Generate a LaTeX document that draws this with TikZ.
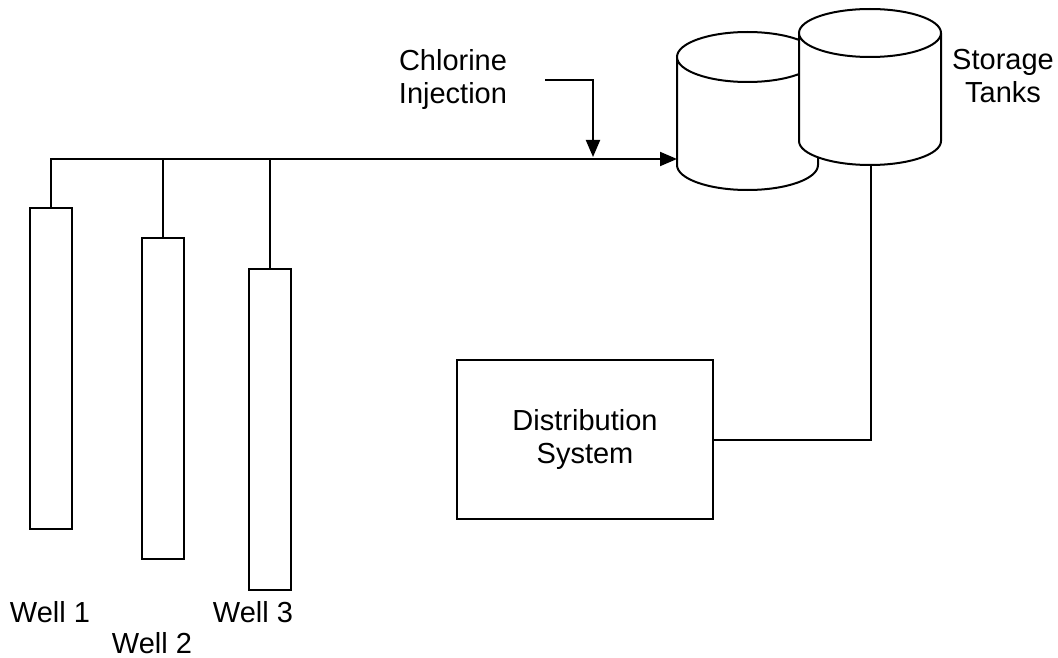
\documentclass[tikz,border=0pt]{standalone}
\usepackage{fontspec}
\setmainfont{Liberation Sans}
\usetikzlibrary{arrows.meta}
\begin{document}
\begin{tikzpicture}
		[x=1pt,y=-1pt,
		pipe/.style={line width=2pt},
		well/.style={draw,line width=2pt,inner sep=0pt,minimum width=42pt,minimum height=321pt},
		unit/.style={draw,line width=2pt,inner sep=0pt,minimum width=256pt,minimum height=159pt},
		textstyle/.style={font=\fontsize{29}{33}\selectfont,align=center,inner sep=0pt},
		tip/.style={-{Triangle[length=17pt,width=14pt]}}]
		\useasboundingbox (0,0) rectangle (1058,658);
		% wells
		\node at (50.5, 368) (well1) [well] {};
		\node at (163, 398) (well2) [well] {};
		\node at (269.5, 429.5) (well3) [well] {};
		\node at (50, 612) (lbl1) [textstyle] {Well 1};
		\node at (152, 643) (lbl2) [textstyle] {Well 2};
		\node at (253, 612) (lbl3) [textstyle] {Well 3};
		% storage tanks
		\draw[line width=2pt,fill=white] (677,57) -- (677,165) arc[start angle=180,end angle=0,x radius=70.5,y radius=25]
			-- (818,57) arc[start angle=0,end angle=-180,x radius=70.5,y radius=25] arc[start angle=180,end angle=0,x radius=70.5,y radius=25];
		\draw[line width=2pt,fill=white] (799,33) -- (799,141) arc[start angle=180,end angle=0,x radius=71,y radius=24]
			-- (941,33) arc[start angle=0,end angle=-180,x radius=71,y radius=24] arc[start angle=180,end angle=0,x radius=71,y radius=24];
		\coordinate (inlet) at (677, 159);
		\coordinate (outlet) at (871, 165);
		\node at (1003, 76) (tanks) [textstyle] {Storage\\Tanks};
		% chlorine
		\node at (453, 80) (chlorine) [textstyle] {Chlorine\\Injection};
		\coordinate (clstart) at (545, 80);
		\coordinate (clend) at (593, 157);
		% distribution
		\node at (585, 439.5) (dist) [unit,textstyle] {Distribution\\System};
		% pipes
		\draw[pipe,tip] (well1.north) |- (inlet);
		\draw[pipe] (well2.north) -- (well2.north |- inlet);
		\draw[pipe] (well3.north) -- (well3.north |- inlet);
		\draw[pipe,tip] (clstart) -| (clend);
		\draw[pipe] (outlet) |- (dist.east);
	\end{tikzpicture}
\end{document}
